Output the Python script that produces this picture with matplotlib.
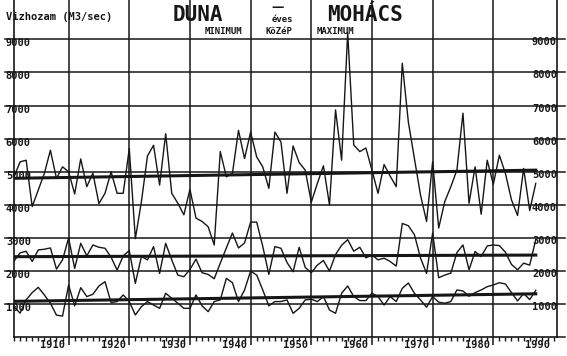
import matplotlib
matplotlib.use('Agg')
import matplotlib.pyplot as plt
import numpy as np

# Duna - Mohacs, annual discharge (m3/s)
years = list(range(1901, 1988))

maximum = [4850, 5300, 5350, 3950, 4450, 4950, 5650, 4800, 5150, 5000,
           4330, 5390, 4550, 4960, 4040, 4350, 5000, 4350, 4350, 5700,
           2980, 4100, 5480, 5800, 4600, 6150, 4350, 4050, 3700, 4470,
           3600, 3500, 3340, 2790, 5610, 4850, 4950, 6250, 5400, 6200,
           5450, 5150, 4500, 6200, 5900, 4350, 5780, 5280, 5050, 4080,
           4650, 5180, 4000, 6870, 5350, 9200, 5810, 5610, 5720, 5050,
           4350, 5220, 4870, 4550, 8280, 6500, 5400, 4300, 3500, 5300,
           3300, 4100, 4550, 5050, 6770, 4050, 5150, 3720, 5350, 4620,
           5500, 4950, 4150, 3680, 5100, 3830, 4650]

kozep = [2300, 2550, 2600, 2290, 2640, 2660, 2700, 2060, 2340, 3000,
         2080, 2840, 2460, 2790, 2720, 2690, 2420, 2030, 2460, 2620,
         1630, 2440, 2340, 2740, 1930, 2840, 2340, 1880, 1830, 2050,
         2360, 1950, 1900, 1770, 2240, 2700, 3150, 2700, 2850, 3480,
         3480, 2750, 1900, 2740, 2690, 2260, 1980, 2720, 2110, 1950,
         2180, 2320, 2000, 2500, 2780, 2950, 2600, 2720, 2400, 2490,
         2340, 2390, 2290, 2150, 3440, 3370, 3100, 2400, 1930, 3150,
         1800, 1880, 1940, 2560, 2790, 2040, 2590, 2440, 2760, 2790,
         2770, 2570, 2200, 2040, 2240, 2180, 2950]

minimum = [925, 730, 1130, 1350, 1510, 1280, 1030, 670, 640, 1580,
           950, 1500, 1230, 1300, 1550, 1680, 1050, 1080, 1280, 1080,
           675, 925, 1080, 975, 875, 1330, 1180, 1030, 875, 875,
           1280, 950, 775, 1080, 1130, 1780, 1650, 1080, 1430, 2000,
           1880, 1430, 950, 1080, 1080, 1130, 725, 875, 1130, 1150,
           1080, 1230, 825, 725, 1330, 1550, 1230, 1110, 1110, 1330,
           1230, 975, 1230, 1080, 1480, 1640, 1330, 1130, 910, 1230,
           1060, 1030, 1080, 1430, 1400, 1240, 1350, 1430, 1530, 1580,
           1650, 1610, 1350, 1100, 1320, 1140, 1420]

decades = [1910, 1920, 1930, 1940, 1950, 1960, 1970, 1980, 1990]
levels = [1000, 2000, 3000, 4000, 5000, 6000, 7000, 8000, 9000]

ink = '#161616'
mono = 'DejaVu Sans Mono'

fig = plt.figure(figsize=(5.67, 3.56), dpi=100)
ax = fig.add_axes([14 / 567, 18.7 / 356, 543 / 567, 337.3 / 356])
ax.set_xlim(1901, 1990.5)
ax.set_ylim(0, 10190)

# grid
for d in decades[:-1]:
    ax.axvline(d, color=ink, lw=1.1)
for v in levels:
    ax.plot([-0.017, 1.015], [v, v], color=ink, lw=1.1,
            transform=ax.get_yaxis_transform(), clip_on=False)
ax.plot([1.0, 1.015], [0, 0], color=ink, lw=1.1,
        transform=ax.get_yaxis_transform(), clip_on=False)

# series and their linear trends
x = np.array(years)
for s in [maximum, kozep, minimum]:
    ax.plot(years, s, color=ink, lw=1.0)
    k, b = np.polyfit(x, s, 1)
    ax.plot([x[0], x[-1]], [k * x[0] + b, k * x[-1] + b], color=ink, lw=2.2)

for side in ['left', 'right', 'bottom']:
    ax.spines[side].set_color(ink)
    ax.spines[side].set_linewidth(1.2)
ax.spines['top'].set_visible(False)

ax.set_yticks([])
ax.set_xticks(decades[:-1])
ax.set_xticklabels([])
ax.set_xticks(years + [1988, 1989, 1990], minor=True)
ax.tick_params(axis='x', which='major', length=6, width=1.1, color=ink)
ax.tick_params(axis='x', which='minor', length=3, width=1.0, color=ink)

# axis numbers
for d in decades:
    ax.text(d - 0.6, -0.024, str(d), transform=ax.get_xaxis_transform(),
            ha='right', va='center', fontsize=7.5, family=mono,
            fontweight='bold', color=ink, clip_on=False)
for v in levels:
    ax.text(-0.015, v - 120, str(v), transform=ax.get_yaxis_transform(),
            ha='left', va='center', fontsize=7.5, family=mono,
            fontweight='bold', color=ink, clip_on=False)
    ax.text(1.0, v - 90, str(v), transform=ax.get_yaxis_transform(),
            ha='right', va='center', fontsize=7.5, family=mono,
            fontweight='bold', color=ink, clip_on=False)

# headings
def label(px, py, s, size, ha='center', family=mono):
    fig.text(px / 567, 1 - py / 356, s, ha=ha, va='center', fontsize=size,
             family=family, fontweight='bold', color=ink)

label(6, 17, 'Vizhozam (M3/sec)', 7.5, ha='left')
label(198, 15, 'DUNA', 15)
label(278, 7, '—', 9, family='DejaVu Sans')
label(365, 15, 'MOHÁCS', 15)
label(282, 19.5, 'éves', 6.5)
label(223, 32, 'MINIMUM', 6.5)
label(279, 32, 'KöZéP', 6.5)
label(335, 32, 'MAXIMUM', 6.5)

fig.savefig('out.png', dpi=100, facecolor='white')
